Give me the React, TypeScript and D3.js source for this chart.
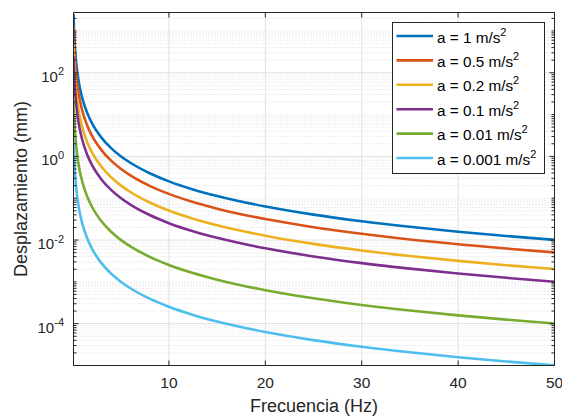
import React from "react";
import * as d3 from "d3";

const freqs = [0.1, 0.15, 0.2, 0.3, 0.5, 0.75, 1, 1.5, 2, 3, 4, 5, 6, 8, 10, 12.5, 15, 20, 25, 30, 35, 40, 45, 50];

const dispA1 = [2533, 1126, 633, 281, 101, 45.0, 25.3, 11.3, 6.33, 2.81, 1.58, 1.01, 0.704, 0.396, 0.253, 0.162, 0.113, 0.0633, 0.0405, 0.0281, 0.0207, 0.0158, 0.0125, 0.0101];
const dispA05 = [1266, 563, 317, 141, 50.7, 22.5, 12.7, 5.63, 3.17, 1.41, 0.792, 0.507, 0.352, 0.198, 0.127, 0.0811, 0.0563, 0.0317, 0.0203, 0.0141, 0.0103, 0.00792, 0.00626, 0.00507];
const dispA02 = [507, 225, 127, 56.3, 20.3, 9.01, 5.07, 2.25, 1.27, 0.563, 0.317, 0.203, 0.141, 0.0792, 0.0507, 0.0324, 0.0225, 0.0127, 0.00811, 0.00563, 0.00414, 0.00317, 0.0025, 0.00203];
const dispA01 = [253, 113, 63.3, 28.1, 10.1, 4.5, 2.53, 1.13, 0.633, 0.281, 0.158, 0.101, 0.0704, 0.0396, 0.0253, 0.0162, 0.0113, 0.00633, 0.00405, 0.00281, 0.00207, 0.00158, 0.00125, 0.00101];
const dispA001 = [25.3, 11.3, 6.33, 2.81, 1.01, 0.45, 0.253, 0.113, 0.0633, 0.0281, 0.0158, 0.0101, 0.00704, 0.00396, 0.00253, 0.00162, 0.00113, 0.000633, 0.000405, 0.000281, 0.000207, 0.000158, 0.000125, 0.000101];
const dispA0001 = [2.53, 1.13, 0.633, 0.281, 0.101, 0.045, 0.0253, 0.0113, 0.00633, 0.00281, 0.00158, 0.00101, 0.000704, 0.000396, 0.000253, 0.000162, 0.000113, 0.0000633, 0.0000405, 0.0000281, 0.0000207, 0.0000158, 0.0000125, 0.0000101];

const seriesLabels = ["a = 1 m/s", "a = 0.5 m/s", "a = 0.2 m/s", "a = 0.1 m/s", "a = 0.01 m/s", "a = 0.001 m/s"];
const seriesValues = [dispA1, dispA05, dispA02, dispA01, dispA001, dispA0001];
const seriesColors = ["#0072BD", "#D95319", "#EDB120", "#7E2F8E", "#77AC30", "#4DBEEE"];

const xTicks = [10, 20, 30, 40, 50];
const yLabelExps = [-4, -2, 0, 2];

const FONT = "'Liberation Sans', Arial, Helvetica, sans-serif";

export default function App() {
  const W = 562, H = 416;
  const L = 73.5, R = 554.5, T = 12.5, B = 365.5;
  const x = d3.scaleLinear().domain([0.1, 50]).range([L, R]);
  const y = d3.scaleLog().domain([1e-5, 2760]).range([B, T]);

  const line = d3
    .line<[number, number]>()
    .x((d) => x(d[0]))
    .y((d) => y(d[1]))
    .curve(d3.curveMonotoneX);

  const minors: number[] = [];
  for (let e = -5; e <= 3; e++) {
    for (let m = 1; m <= 9; m++) {
      const v = m * Math.pow(10, e);
      if (v < 1e-5 || v > 2760) continue;
      if (m === 1 && e % 2 === 0) continue;
      minors.push(v);
    }
  }
  const axisColor = "#262626";

  return (
    <div style={{ position: "absolute", left: 0, top: 0 }}>
      <svg width={W} height={H} style={{ display: "block", fontFamily: FONT }}>
        <rect x={0} y={0} width={W} height={H} fill="#ffffff" />
        <defs>
          <clipPath id="plotclip">
            <rect x={L} y={T} width={R - L} height={B - T} />
          </clipPath>
        </defs>
        {minors.map((v, i) => (
          <line key={"mg" + i} x1={L} x2={R} y1={y(v)} y2={y(v)} stroke="#d4d4d4" strokeWidth={0.8} strokeDasharray="1,2" />
        ))}
        {yLabelExps.map((e) => (
          <line key={"yg" + e} x1={L} x2={R} y1={y(Math.pow(10, e))} y2={y(Math.pow(10, e))} stroke="#e1e1e1" strokeWidth={1} />
        ))}
        {xTicks.map((t) => (
          <line key={"xg" + t} x1={x(t)} x2={x(t)} y1={T} y2={B} stroke="#e1e1e1" strokeWidth={1} />
        ))}
        <g clipPath="url(#plotclip)">
          {seriesValues.map((vals, i) => (
            <path
              key={"s" + i}
              d={line(freqs.map((f, j) => [f, vals[j]] as [number, number])) || ""}
              fill="none"
              stroke={seriesColors[i]}
              strokeWidth={2.6}
            />
          ))}
        </g>
        <rect x={L} y={T} width={R - L} height={B - T} fill="none" stroke={axisColor} strokeWidth={1} />
        {xTicks.map((t) => (
          <g key={"xt" + t}>
            <line x1={x(t)} x2={x(t)} y1={B} y2={B - 5} stroke={axisColor} />
            <line x1={x(t)} x2={x(t)} y1={T} y2={T + 5} stroke={axisColor} />
            <text x={x(t)} y={388} textAnchor="middle" fontSize={15.5} fill={axisColor}>
              {t}
            </text>
          </g>
        ))}
        {minors.map((v, i) => (
          <g key={"ymt" + i}>
            <line x1={L} x2={L + 3} y1={y(v)} y2={y(v)} stroke={axisColor} />
            <line x1={R} x2={R - 3} y1={y(v)} y2={y(v)} stroke={axisColor} />
          </g>
        ))}
        {yLabelExps.map((e) => (
          <g key={"yt" + e}>
            <line x1={L} x2={L + 5} y1={y(Math.pow(10, e))} y2={y(Math.pow(10, e))} stroke={axisColor} />
            <line x1={R} x2={R - 5} y1={y(Math.pow(10, e))} y2={y(Math.pow(10, e))} stroke={axisColor} />
            <text x={64} y={y(Math.pow(10, e)) + 9} textAnchor="end" fontSize={15} fill={axisColor}>
              10
              <tspan dy={-6.5} fontSize={11}>
                {e}
              </tspan>
            </text>
          </g>
        ))}
        <text x={(L + R) / 2} y={412} textAnchor="middle" fontSize={18} fill={axisColor}>
          Frecuencia (Hz)
        </text>
        <text transform={`translate(27,${(T + B) / 2}) rotate(-90)`} textAnchor="middle" fontSize={18} fill={axisColor}>
          Desplazamiento (mm)
        </text>
        <rect x={392.5} y={22.5} width={152} height={151} fill="#ffffff" stroke={axisColor} strokeWidth={1} />
        {seriesLabels.map((lab, i) => {
          const ry = 36 + i * 24.4;
          return (
            <g key={"lg" + i}>
              <line x1={396.5} x2={433} y1={ry} y2={ry} stroke={seriesColors[i]} strokeWidth={2.6} />
              <text x={437} y={ry + 6.5} fontSize={15.3} fill="#000000">
                {lab}
                <tspan dy={-7} fontSize={11}>
                  2
                </tspan>
              </text>
            </g>
          );
        })}
      </svg>
    </div>
  );
}
